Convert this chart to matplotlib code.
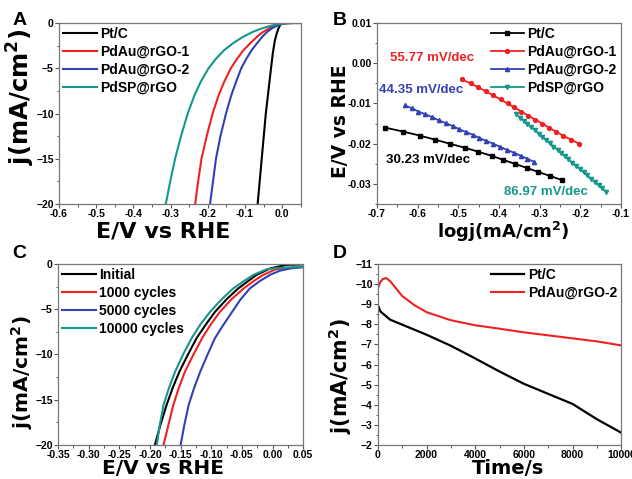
import matplotlib
matplotlib.use("Agg")
import matplotlib.pyplot as plt
from matplotlib.ticker import MultipleLocator, FormatStrFormatter

plt.rcParams['font.family'] = ['Liberation Sans', 'DejaVu Sans']
plt.rcParams['font.weight'] = 'bold'
plt.rcParams['mathtext.default'] = 'bf'

BLACK = '#000000'
RED = '#EE2222'
BLUE = '#3242B4'
TEAL = '#16978C'

# --- Panel A: LSV curves (x = E/V, y = j) ---
a_labels = ['Pt/C', 'PdAu@rGO-1', 'PdAu@rGO-2', 'PdSP@rGO']
a_ptc_x = [-0.066, -0.055, -0.044, -0.037, -0.030, -0.025, -0.020, -0.015, -0.010, -0.005, 0.0, 0.05]
a_ptc_y = [-20, -15, -10, -7.5, -5.0, -3.3, -2.0, -1.2, -0.6, -0.2, 0.0, 0.0]
a_y = [-20, -17.5, -15, -12.5, -10, -8, -6.5, -5, -4, -3, -2.2, -1.5, -1.0, -0.6, -0.3, -0.12,
       -0.03, 0, 0]
a_g1_x = [-0.234, -0.226, -0.217, -0.203, -0.187, -0.171, -0.156, -0.138, -0.122, -0.104,
          -0.085, -0.067, -0.052, -0.035, -0.018, -0.004, 0.012, 0.030, 0.05]
a_g2_x = [-0.194, -0.186, -0.178, -0.166, -0.151, -0.137, -0.124, -0.110, -0.097, -0.082,
          -0.067, -0.053, -0.041, -0.028, -0.014, -0.002, 0.012, 0.030, 0.05]
a_sp_x = [-0.313, -0.301, -0.288, -0.272, -0.254, -0.236, -0.219, -0.198, -0.179, -0.156,
          -0.131, -0.104, -0.080, -0.055, -0.030, -0.010, 0.010, 0.030, 0.05]

# --- Panel B: Tafel plots (x = log j, y = E/V) ---
b_ptc_x = [-0.680, -0.635, -0.594, -0.557, -0.521, -0.484, -0.451, -0.418, -0.390, -0.361,
           -0.332, -0.304, -0.275, -0.246]
b_ptc_y = [-0.016, -0.017, -0.018, -0.019, -0.020, -0.021, -0.022, -0.023, -0.024, -0.025,
           -0.026, -0.027, -0.028, -0.029]
b_g1_x = [-0.492, -0.470, -0.451, -0.432, -0.414, -0.396, -0.379, -0.362, -0.345, -0.328,
          -0.311, -0.294, -0.277, -0.260, -0.242, -0.223, -0.203]
b_g1_y = [-0.004, -0.005, -0.006, -0.007, -0.008, -0.009, -0.010, -0.011, -0.012, -0.013,
          -0.014, -0.015, -0.016, -0.017, -0.018, -0.019, -0.020]
b_g2_x = [-0.631, -0.614, -0.598, -0.581, -0.564, -0.548, -0.531, -0.514, -0.498, -0.481,
          -0.464, -0.448, -0.431, -0.414, -0.397, -0.381, -0.364, -0.347, -0.331, -0.314]
b_g2_y = [-0.0105, -0.0112, -0.0120, -0.0127, -0.0134, -0.0142, -0.0149, -0.0156, -0.0164,
          -0.0171, -0.0178, -0.0186, -0.0193, -0.0200, -0.0208, -0.0215, -0.0222, -0.0230,
          -0.0237, -0.0245]
b_sp_x = [-0.357, -0.348, -0.339, -0.330, -0.320, -0.311, -0.302, -0.293, -0.284, -0.275,
          -0.266, -0.256, -0.247, -0.238, -0.229, -0.220, -0.210, -0.201, -0.192, -0.183,
          -0.174, -0.165, -0.155, -0.146, -0.137]
b_sp_y = [-0.0127, -0.0135, -0.0143, -0.0151, -0.0159, -0.0167, -0.0175, -0.0183, -0.0191,
          -0.0199, -0.0207, -0.0215, -0.0223, -0.0231, -0.0239, -0.0247, -0.0255, -0.0263,
          -0.0271, -0.0279, -0.0287, -0.0295, -0.0303, -0.0311, -0.0319]
b_slopes = ['30.23 mV/dec', '55.77 mV/dec', '44.35 mV/dec', '86.97 mV/dec']

# --- Panel C: stability cycles ---
c_labels = ['Initial', '1000 cycles', '5000 cycles', '10000 cycles']
c_y = [-20, -17.8, -15.6, -13.7, -11.9, -10, -8.2, -6.7, -5.3, -3.9, -2.7, -1.9, -1.2]
c_init_x = [-0.192, -0.183, -0.173, -0.163, -0.152, -0.138, -0.124, -0.109, -0.094, -0.075,
            -0.056, -0.040, -0.026, -0.004, 0.023, 0.05]
c_init_tail = [-0.5, -0.1, -0.05]
c_1k_x = [-0.178, -0.170, -0.162, -0.153, -0.143, -0.129, -0.115, -0.101, -0.086, -0.067,
          -0.047, -0.031, -0.015, 0.005, 0.023, 0.05]
c_1k_tail = [-0.6, -0.45, -0.35]
c_5k_x = [-0.150, -0.144, -0.137, -0.128, -0.118, -0.106, -0.094, -0.080, -0.066, -0.052,
          -0.037, -0.021, -0.004, 0.012, 0.029, 0.05]
c_5k_tail = [-0.75, -0.5, -0.35]
c_10k_x = [-0.189, -0.184, -0.178, -0.169, -0.159, -0.146, -0.132, -0.118, -0.102, -0.083,
           -0.064, -0.047, -0.031, -0.010, 0.007, 0.05]
c_10k_tail = [-0.6, -0.45, -0.3]

# --- Panel D: chronoamperometry ---
d_ptc_t = [0, 100, 500, 1000, 1500, 2000, 3000, 4000, 5000, 6000, 7000, 8000, 9000, 10000]
d_ptc_j = [-8.95, -8.64, -8.23, -7.98, -7.73, -7.48, -6.93, -6.30, -5.65, -5.04, -4.54, -4.04,
           -3.28, -2.61]
d_g2_t = [0, 100, 200, 330, 500, 700, 1000, 1500, 2000, 2500, 3000, 4000, 5000, 6000, 7000,
          8000, 9000, 10000]
d_g2_j = [-9.8, -10.1, -10.25, -10.3, -10.15, -9.85, -9.4, -8.95, -8.6, -8.4, -8.2, -7.95,
          -7.78, -7.6, -7.45, -7.3, -7.15, -6.95]

fig = plt.figure(figsize=(6.32, 4.79), dpi=100)
axA = fig.add_axes([0.0934, 0.574, 0.3825, 0.378])
axB = fig.add_axes([0.5965, 0.574, 0.386, 0.378])
axC = fig.add_axes([0.0918, 0.071, 0.388, 0.378])
axD = fig.add_axes([0.598, 0.071, 0.385, 0.378])

TICK_FS = 7.5
LEG_FS = 10
LABEL_FONT = 'DejaVu Sans'


def style(ax):
    for s in ax.spines.values():
        s.set_color('#777777')
        s.set_linewidth(0.9)
    ax.tick_params(which='major', direction='out', length=3, width=0.8, color='#555555',
                   labelsize=TICK_FS, pad=0.8)
    ax.tick_params(which='minor', direction='out', length=1.8, width=0.7, color='#555555')
    for lab in ax.get_xticklabels() + ax.get_yticklabels():
        lab.set_fontweight('bold')


def labels(ax, xtext, xsize, xpos, ytext, ysize, ypos):
    ax.set_xlabel(xtext, fontsize=xsize, fontweight='bold', family=LABEL_FONT)
    ax.set_ylabel(ytext, fontsize=ysize, fontweight='bold', family=LABEL_FONT)
    ax.xaxis.set_label_coords(*xpos)
    ax.yaxis.set_label_coords(*ypos)
    ax.xaxis.label.set_va('baseline')
    ax.yaxis.label.set_va('baseline')


def legend(ax, **kw):
    leg = ax.legend(frameon=False, fontsize=LEG_FS, handlelength=2.4, handletextpad=0.25,
                    labelspacing=0.28, borderaxespad=0.1, borderpad=0.2, **kw)
    for t in leg.get_texts():
        t.set_fontweight('bold')
    return leg


# Panel A
axA.plot(a_ptc_x, a_ptc_y, color=BLACK, lw=1.5, label=a_labels[0])
axA.plot(a_g1_x, a_y, color=RED, lw=1.5, label=a_labels[1])
axA.plot(a_g2_x, a_y, color=BLUE, lw=1.5, label=a_labels[2])
axA.plot(a_sp_x, a_y, color=TEAL, lw=1.5, label=a_labels[3])
axA.set_xlim(-0.6, 0.05)
axA.set_ylim(-20, 0)
axA.xaxis.set_major_locator(MultipleLocator(0.1))
axA.xaxis.set_minor_locator(MultipleLocator(0.05))
axA.xaxis.set_major_formatter(FormatStrFormatter('%.1f'))
axA.yaxis.set_major_locator(MultipleLocator(5))
axA.yaxis.set_minor_locator(MultipleLocator(2.5))
labels(axA, 'E/V vs RHE', 16, (0.43, -0.182), 'j(mA/cm$^2$)', 17.5, (-0.122, 0.59))
legend(axA, loc='upper left')
style(axA)

# Panel B
axB.plot(b_ptc_x, b_ptc_y, color=BLACK, lw=1.3, marker='s', ms=2.8, label=a_labels[0])
axB.plot(b_g1_x, b_g1_y, color=RED, lw=1.3, marker='o', ms=2.8, label=a_labels[1])
axB.plot(b_g2_x, b_g2_y, color=BLUE, lw=1.3, marker='^', ms=3, label=a_labels[2])
axB.plot(b_sp_x, b_sp_y, color=TEAL, lw=1.3, marker='v', ms=3, label=a_labels[3])
axB.set_xlim(-0.7, -0.1)
axB.set_ylim(-0.035, 0.01)
axB.xaxis.set_major_locator(MultipleLocator(0.1))
axB.xaxis.set_minor_locator(MultipleLocator(0.05))
axB.xaxis.set_major_formatter(FormatStrFormatter('%.1f'))
axB.yaxis.set_major_locator(MultipleLocator(0.01))
axB.yaxis.set_minor_locator(MultipleLocator(0.005))
axB.yaxis.set_major_formatter(FormatStrFormatter('%.2f'))
labels(axB, 'logj(mA/cm$^2$)', 13, (0.516, -0.19), 'E/V vs RHE', 13.5, (-0.127, 0.46))
axB.text(-0.678, -0.0241, b_slopes[0], color=BLACK, fontsize=9.5, fontweight='bold',
         va='center', ha='left')
axB.text(-0.668, 0.0013, b_slopes[1], color=RED, fontsize=9.5, fontweight='bold',
         va='center', ha='left')
axB.text(-0.695, -0.0067, b_slopes[2], color=BLUE, fontsize=9.5, fontweight='bold',
         va='center', ha='left')
axB.text(-0.388, -0.0319, b_slopes[3], color=TEAL, fontsize=9.5, fontweight='bold',
         va='center', ha='left')
legend(axB, loc='upper right')
style(axB)

# Panel C
axC.plot(c_init_x, c_y + c_init_tail, color=BLACK, lw=1.5, label=c_labels[0])
axC.plot(c_1k_x, c_y + c_1k_tail, color=RED, lw=1.5, label=c_labels[1])
axC.plot(c_5k_x, c_y + c_5k_tail, color=BLUE, lw=1.5, label=c_labels[2])
axC.plot(c_10k_x, c_y + c_10k_tail, color=TEAL, lw=1.5, label=c_labels[3])
axC.set_xlim(-0.35, 0.05)
axC.set_ylim(-20, 0)
axC.xaxis.set_major_locator(MultipleLocator(0.05))
axC.xaxis.set_minor_locator(MultipleLocator(0.025))
axC.xaxis.set_major_formatter(FormatStrFormatter('%.2f'))
axC.yaxis.set_major_locator(MultipleLocator(5))
axC.yaxis.set_minor_locator(MultipleLocator(2.5))
labels(axC, 'E/V vs RHE', 14.5, (0.43, -0.162), 'j(mA/cm$^2$)', 14.5, (-0.118, 0.40))
legend(axC, loc='upper left')
style(axC)

# Panel D
axD.plot(d_ptc_t, d_ptc_j, color=BLACK, lw=1.6, label=a_labels[0])
axD.plot(d_g2_t, d_g2_j, color=RED, lw=1.5, label=a_labels[2])
axD.set_xlim(0, 10000)
axD.set_ylim(-2, -11)
axD.xaxis.set_major_locator(MultipleLocator(2000))
axD.xaxis.set_minor_locator(MultipleLocator(1000))
axD.yaxis.set_major_locator(MultipleLocator(1))
axD.yaxis.set_minor_locator(MultipleLocator(0.5))
labels(axD, 'Time/s', 14, (0.535, -0.162), 'j(mA/cm$^2$)', 14.8, (-0.125, 0.38))
legend(axD, loc='upper right')
style(axD)

for lab, x, y in [('A', 0.020, 0.975), ('B', 0.527, 0.975), ('C', 0.020, 0.488), ('D', 0.527, 0.488)]:
    fig.text(x, y, lab, fontsize=14, fontweight='bold', va='top', ha='left')

fig.savefig('out.png', dpi=100)
